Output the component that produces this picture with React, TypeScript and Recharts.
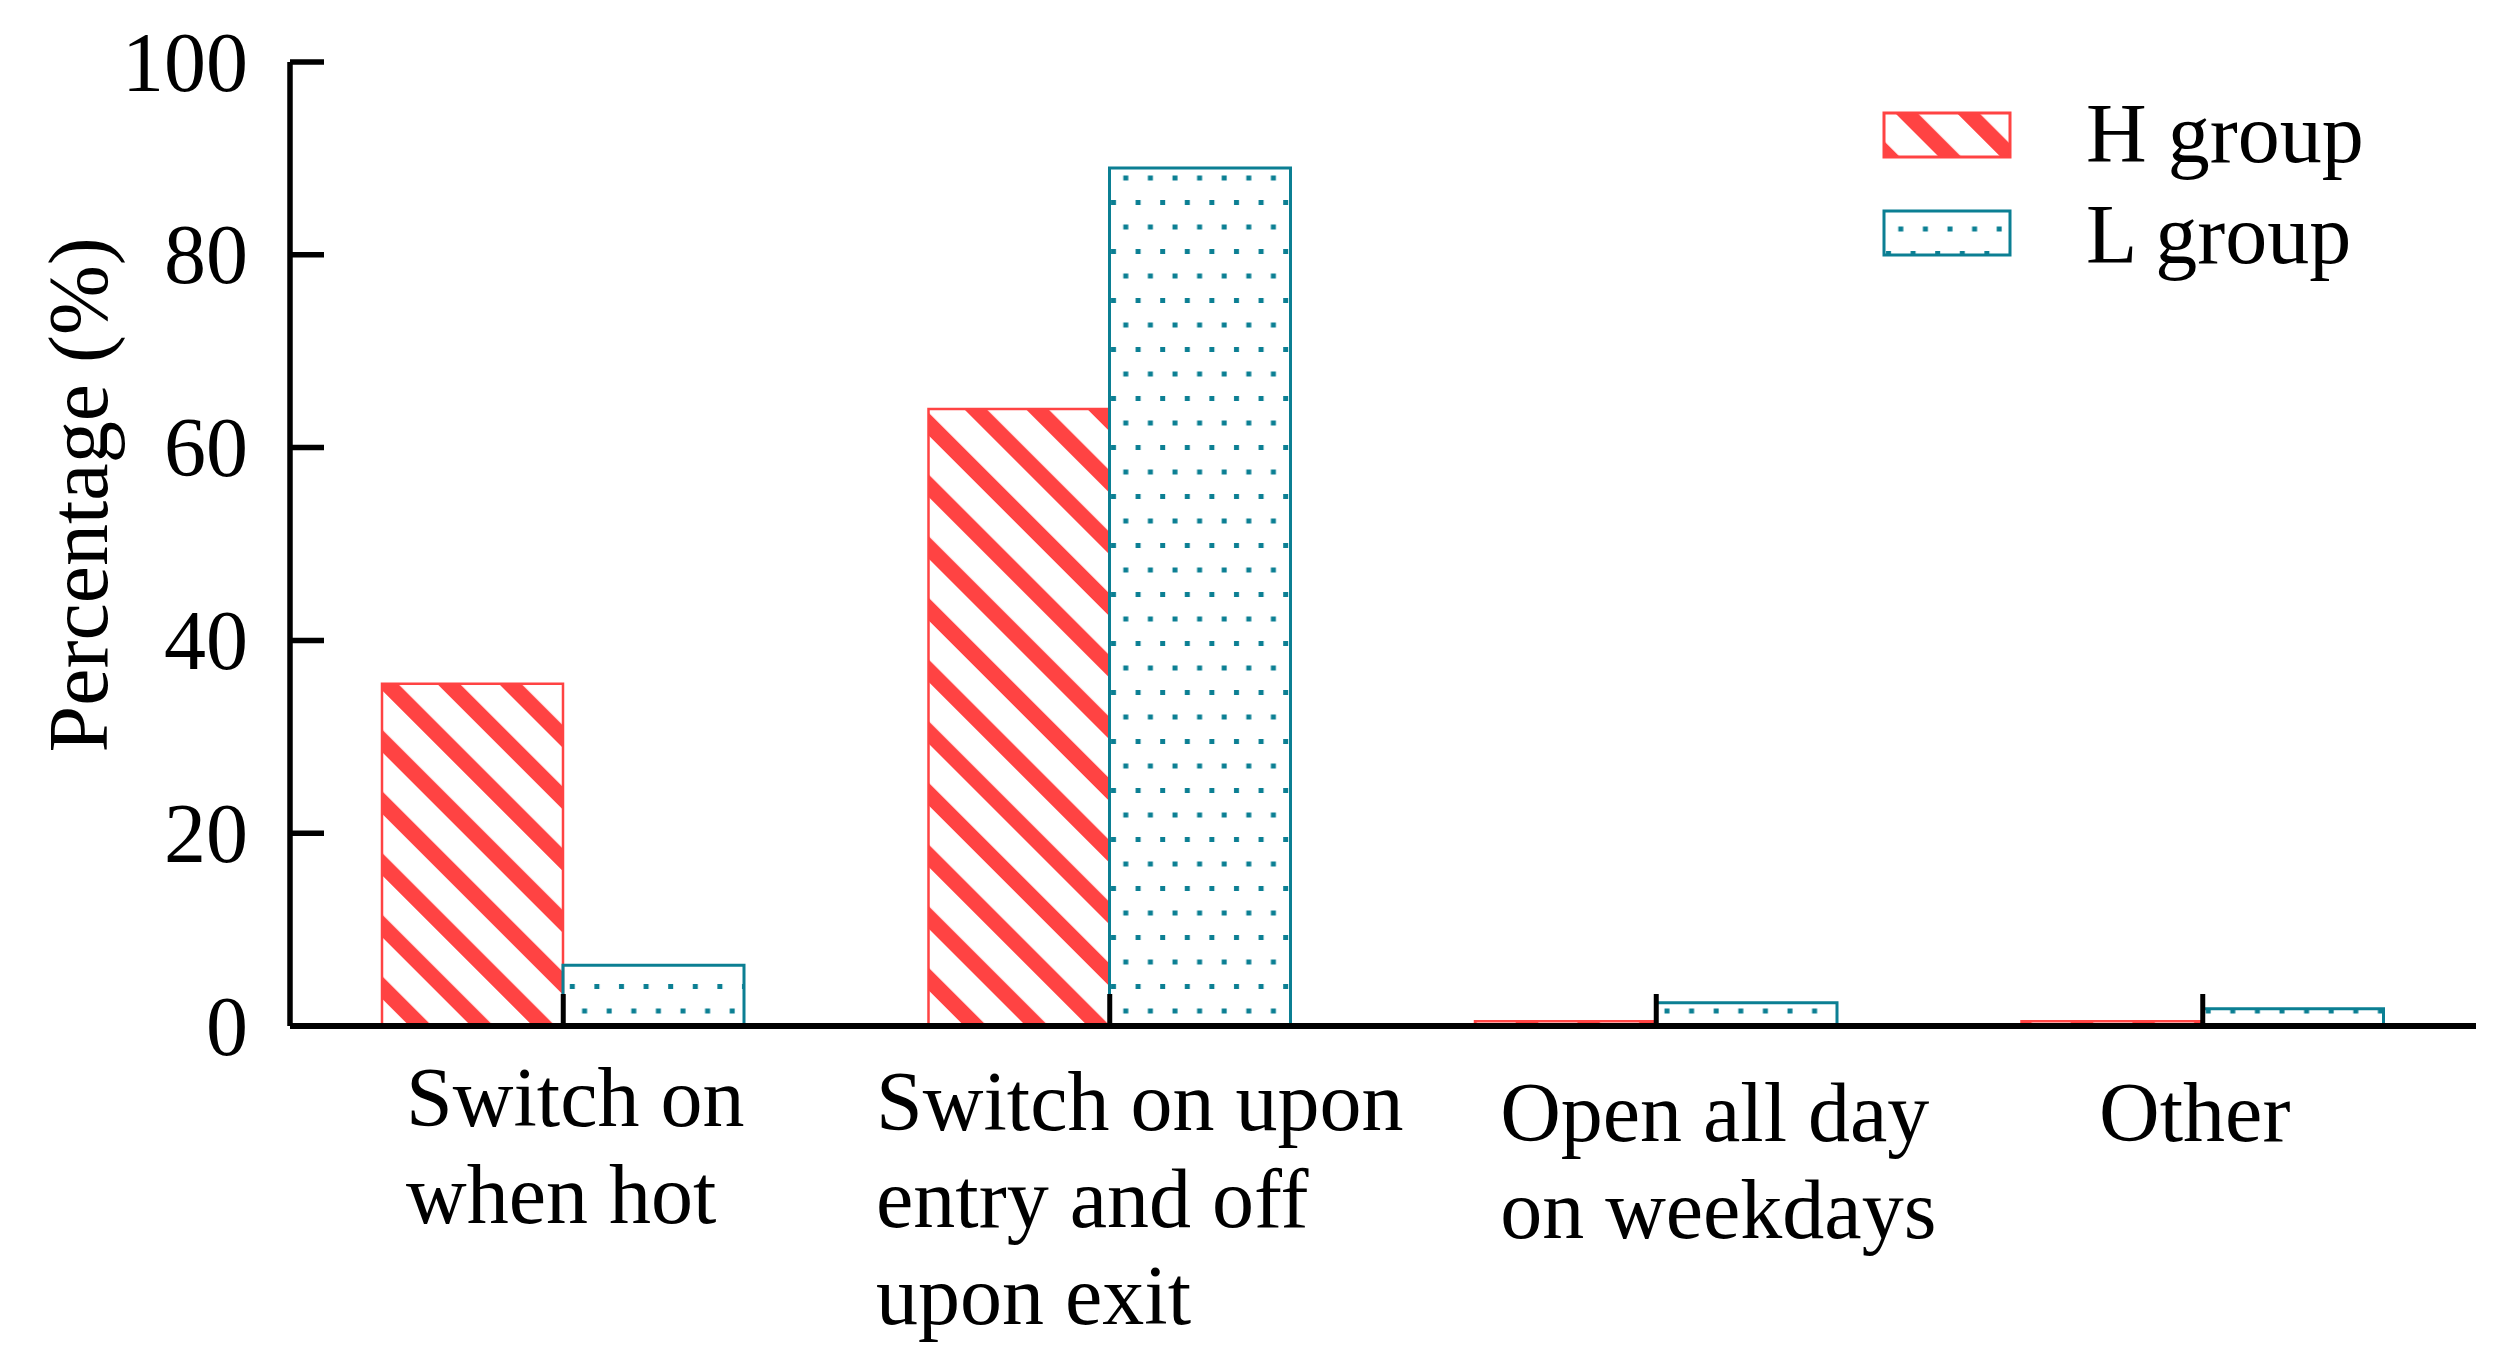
import React from 'react';
import { BarChart, Bar, XAxis, YAxis, Legend } from 'recharts';

// categories and values
const categories = [
  'Switch on\nwhen hot',
  'Switch on upon\nentry and off\nupon exit',
  'Open all day\non weekdays',
  'Other',
];
const hGroup = [35.5, 64, 0.5, 0.5];
const lGroup = [6.3, 89, 2.4, 1.8];
const yTicks = [0, 20, 40, 60, 80, 100];
const seriesNames = ['H group', 'L group'];

// hand placement of the category labels in the original (px, layout only)
const labelNudgeX = [12, 30, 62, -8];
const labelNudgeY = [-4, 0, 11, 11];

const RED = '#FF4343';
const TEAL = '#0B7F93';
const FONT = '"Liberation Serif", "Times New Roman", serif';
const FS = 84;

const data = categories.map((name, i) => ({ name, h: hGroup[i], l: lGroup[i] }));

let ctx: CanvasRenderingContext2D | null = null;
const measure = (s: string) => {
  if (!ctx) ctx = document.createElement('canvas').getContext('2d');
  if (!ctx) return s.length * FS * 0.45;
  ctx.font = `${FS}px "Liberation Serif"`;
  return ctx.measureText(s).width;
};

// category label: lines left-aligned, block centred on the tick, plus a small inward tick
const CategoryTick = (props: any) => {
  const { x, y, payload, index } = props;
  const lines = String(payload.value).split('\n');
  const w = Math.max(...lines.map(measure));
  const left = x - w / 2 + (labelNudgeX[index] || 0);
  const top = y + 104 + (labelNudgeY[index] || 0);
  return (
    <g>
      <line x1={x} x2={x} y1={y} y2={y - 32} stroke="#000" strokeWidth={5} />
      <text x={left} y={top} fontFamily={FONT} fontSize={FS} fill="#000">
        {lines.map((ln, i) => (
          <tspan key={i} x={left} dy={i === 0 ? 0 : 97}>
            {ln}
          </tspan>
        ))}
      </text>
    </g>
  );
};

// value label plus tick pointing into the plot
const ValueTick = (props: any) => {
  const { x, y, payload } = props;
  return (
    <g>
      <line x1={x + 42} x2={x + 42 + 34} y1={y} y2={y} stroke="#000" strokeWidth={5.5} />
      <text x={x} y={y} dy={FS * 0.34} textAnchor="end" fontFamily={FONT} fontSize={FS} fill="#000">
        {payload.value}
      </text>
    </g>
  );
};

const renderYLabel = (props: any) => {
  const vb = props.viewBox || { x: 0, y: 62, width: 290, height: 964 };
  const cx = vb.x + 107;
  const cy = vb.y + vb.height * 0.449;
  return (
    <text
      x={cx}
      y={cy}
      transform={`rotate(-90 ${cx} ${cy})`}
      textAnchor="middle"
      fontFamily={FONT}
      fontSize={FS}
      fill="#000"
    >
      Percentage (%)
    </text>
  );
};

const LegendContent = () => (
  <svg width={620} height={200} style={{ display: 'block', overflow: 'visible' }}>
    <rect x={2} y={13} width={126} height={44} fill="url(#hatchLegend)" stroke={RED} strokeWidth={3} />
    <text x={204} y={62} fontFamily={FONT} fontSize={FS} fill="#000">
      {seriesNames[0]}
    </text>
    <rect x={2} y={111} width={126} height={44} fill="url(#dotsLegend)" stroke={TEAL} strokeWidth={3} />
    <text x={204} y={163} fontFamily={FONT} fontSize={FS} fill="#000">
      {seriesNames[1]}
    </text>
  </svg>
);

export default function App() {
  return (
    <div style={{ position: 'absolute', left: 0, top: 0, background: '#fff' }}>
      <BarChart
        width={2510}
        height={1366}
        data={data}
        margin={{ top: 62, right: 34, bottom: 0, left: 0 }}
        barSize={181}
        barGap={0}
      >
        <defs>
          <pattern id="hatch" patternUnits="userSpaceOnUse" width={43.6} height={43.6} patternTransform="rotate(-45)">
            <rect x={0} y={0} width={16} height={43.6} fill={RED} />
          </pattern>
          <pattern id="dots" patternUnits="userSpaceOnUse" width={24.6} height={49}>
            <rect x={4} y={4} width={5} height={5} fill={TEAL} />
            <rect x={16.3} y={28.5} width={5} height={5} fill={TEAL} />
          </pattern>
          <pattern id="hatchLegend" patternUnits="userSpaceOnUse" width={43.6} height={43.6} patternTransform="rotate(-45)">
            <rect x={0} y={0} width={16} height={43.6} fill={RED} />
          </pattern>
          <pattern id="dotsLegend" patternUnits="userSpaceOnUse" width={24.6} height={49}>
            <rect x={4} y={4} width={5} height={5} fill={TEAL} />
            <rect x={16.3} y={28.5} width={5} height={5} fill={TEAL} />
          </pattern>
        </defs>
        <XAxis
          dataKey="name"
          height={340}
          interval={0}
          tickSize={0}
          tickMargin={0}
          tickLine={false}
          axisLine={{ stroke: '#000', strokeWidth: 6 }}
          tick={<CategoryTick />}
        />
        <YAxis
          width={290}
          domain={[0, 100]}
          ticks={yTicks}
          interval={0}
          tickSize={0}
          tickMargin={42}
          tickLine={false}
          axisLine={{ stroke: '#000', strokeWidth: 5.5 }}
          tick={<ValueTick />}
          label={renderYLabel}
        />
        <Legend
          layout="vertical"
          align="center"
          verticalAlign="middle"
          content={<LegendContent />}
          wrapperStyle={{ left: 1882, top: 100, width: 620, height: 200 }}
        />
        <Bar dataKey="h" name={seriesNames[0]} fill="url(#hatch)" stroke={RED} strokeWidth={2.5} isAnimationActive={false} />
        <Bar dataKey="l" name={seriesNames[1]} fill="url(#dots)" stroke={TEAL} strokeWidth={3} isAnimationActive={false} />
      </BarChart>
    </div>
  );
}
